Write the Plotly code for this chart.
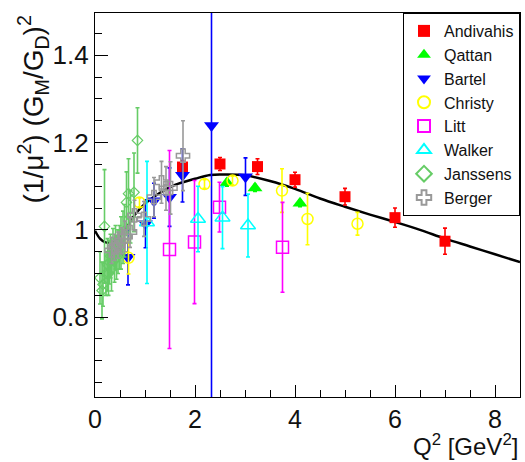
import plotly.graph_objects as go

# ---------------- data ----------------
andivahis_x = [1.75, 2.5, 3.25, 4.0, 5.0, 6.0, 7.0]
andivahis_y = [1.144, 1.151, 1.145, 1.115, 1.076, 1.028, 0.974]
andivahis_e = [0.015, 0.015, 0.018, 0.017, 0.019, 0.022, 0.030]

qattan_x = [2.64, 3.2, 4.1]
qattan_y = [1.108, 1.096, 1.061]
qattan_e = [0.008, 0.008, 0.008]

bartel_x = [0.66, 1.01, 1.18, 1.49, 1.75, 2.33, 3.01]
bartel_y = [0.937, 1.014, 1.067, 1.075, 1.125, 1.239, 1.122]
bartel_e = [0.063, 0.055, 0.04, 0.067, 0.061, 0.9, 0.043]

christy_x = [0.67, 0.89, 2.19, 2.75, 3.74, 4.25, 5.25]
christy_y = [0.936, 1.063, 1.105, 1.113, 1.09, 1.025, 1.014]
christy_e = [0.037, 0.01, 0.01, 0.01, 0.05, 0.059, 0.026]

litt_x = [1.49, 1.99, 2.49, 3.75]
litt_y = [0.955, 0.972, 1.052, 0.96]
litt_e = [0.227, 0.141, 0.057, 0.103]

walker_x = [1.04, 2.06, 2.55, 3.06]
walker_y = [1.017, 1.025, 1.028, 1.01]
walker_e = [0.14, 0.075, 0.071, 0.072]

janssens_x = [0.10, 0.14, 0.16, 0.19, 0.22, 0.25, 0.27, 0.29, 0.31, 0.33, 0.36, 0.39,
              0.41, 0.43, 0.46, 0.49, 0.52, 0.56, 0.59, 0.63, 0.67, 0.71, 0.78, 0.85]
janssens_y = [0.89, 0.861, 0.875, 1.008, 0.90, 0.92, 0.90, 0.926, 0.94, 0.91, 0.953, 0.93,
              0.96, 0.937, 0.95, 0.96, 0.97, 0.983, 0.998, 1.063, 1.083, 1.03, 1.086, 1.205]
janssens_e = [0.06, 0.065, 0.05, 0.13, 0.05, 0.06, 0.05, 0.05, 0.05, 0.05, 0.05, 0.05,
              0.05, 0.05, 0.05, 0.05, 0.06, 0.06, 0.06, 0.07, 0.08, 0.06, 0.09, 0.075]

berger_x = [0.33, 0.39, 0.46, 0.53, 0.60, 0.70, 0.79, 0.98, 1.18, 1.33, 1.42, 1.51, 1.76]
berger_y = [0.953, 0.96, 0.965, 0.975, 0.985, 0.995, 1.033, 1.025, 1.075, 1.109, 1.095, 1.096, 1.17]
berger_e = [0.03, 0.03, 0.03, 0.03, 0.035, 0.035, 0.035, 0.04, 0.045, 0.048, 0.05, 0.06, 0.08]

fit_x = [0, 0.1, 0.2, 0.3, 0.45, 0.6, 0.8, 1.0, 1.3, 1.6, 2.0, 2.3, 2.6, 3.0, 3.5,
         4.0, 4.5, 5.0, 5.5, 6.0, 6.5, 7.0, 7.5, 8.0, 8.5]
fit_y = [0.998, 0.98, 0.972, 0.971, 0.98, 1.0, 1.035, 1.06, 1.085, 1.103, 1.117, 1.126,
         1.127, 1.125, 1.112, 1.094, 1.072, 1.053, 1.035, 1.018, 1.0, 0.98, 0.962, 0.944, 0.926]

FONT = "Liberation Sans, Arial, Helvetica, sans-serif"

series = [
    ("Andivahis", andivahis_x, andivahis_y, andivahis_e, "#ff0000", "square", 11, None),
    ("Qattan", qattan_x, qattan_y, qattan_e, "#00ff00", "triangle-up", 13, None),
    ("Bartel", bartel_x, bartel_y, bartel_e, "#0000ff", "triangle-down", 13, None),
    ("Christy", christy_x, christy_y, christy_e, "#ffff00", "circle-open", 11, 1.5),
    ("Litt", litt_x, litt_y, litt_e, "#ff00ff", "square-open", 12, 1.5),
    ("Walker", walker_x, walker_y, walker_e, "#00ffff", "triangle-up-open", 13, 1.5),
    ("Janssens", janssens_x, janssens_y, janssens_e, "#66cc66", "diamond-open", 8, 1.2),
    ("Berger", berger_x, berger_y, berger_e, "#999999", "cross-open", 11, 1.5),
]

fig = go.Figure()

fig.add_trace(go.Scatter(x=fit_x, y=fit_y, mode="lines", line=dict(color="black", width=2.5, shape="spline"),
                         showlegend=False, hoverinfo="skip"))

for i, (name, xs, ys, es, col, sym, sz, lw) in enumerate(series):
    mk = dict(color=col, symbol=sym, size=sz)
    if lw:
        mk["line"] = dict(color=col, width=lw)
    fig.add_trace(go.Scatter(
        x=xs, y=ys, mode="markers", name=name, marker=mk, legendgroup=name,
        error_y=dict(type="data", array=es, visible=True, color=col, thickness=1.6, width=2),
    ))

fig.add_annotation(text="(1/μ<sup>2</sup>) (G<sub>M</sub>/G<sub>D</sub>)<sup>2</sup>",
                   textangle=-90, xref="paper", yref="paper", x=-0.145, y=1.0,
                   xanchor="center", yanchor="top", showarrow=False,
                   font=dict(family=FONT, size=28, color="#111"))
fig.add_annotation(text="Q<sup>2</sup> [GeV<sup>2</sup>]",
                   xref="paper", yref="paper", x=1.0, y=-0.168,
                   xanchor="right", yanchor="bottom", showarrow=False,
                   font=dict(family=FONT, size=24, color="#111"))

fig.update_layout(
    width=525, height=462,
    margin=dict(l=95, r=5, t=13, b=65),
    paper_bgcolor="white", plot_bgcolor="white",
    font=dict(family=FONT, color="#111"),
    legend=dict(x=1, y=1, xanchor="right", yanchor="top", bgcolor="white",
                bordercolor="black", borderwidth=1, font=dict(size=16, family=FONT, color="#111"),
                tracegroupgap=0, itemsizing="constant"),
    xaxis=dict(range=[0, 8.5], showgrid=False, zeroline=False, showline=True, linecolor="black",
               linewidth=1.3, mirror=True, ticks="inside", ticklen=12, tickwidth=1, tickcolor="black",
               dtick=2, tick0=0, tickfont=dict(size=25, family=FONT, color="#111"),
               minor=dict(ticks="inside", ticklen=7, dtick=0.5, tickcolor="black", showgrid=False)),
    yaxis=dict(range=[0.617, 1.497], showgrid=False, zeroline=False, showline=True, linecolor="black",
               linewidth=1.3, mirror=True, ticks="inside", ticklen=13, tickwidth=1, tickcolor="black",
               dtick=0.2, tick0=0.6, tickfont=dict(size=26, family=FONT, color="#111"),
               minor=dict(ticks="inside", ticklen=7, dtick=0.05, tickcolor="black", showgrid=False)),
)

fig.write_html("out.html")
